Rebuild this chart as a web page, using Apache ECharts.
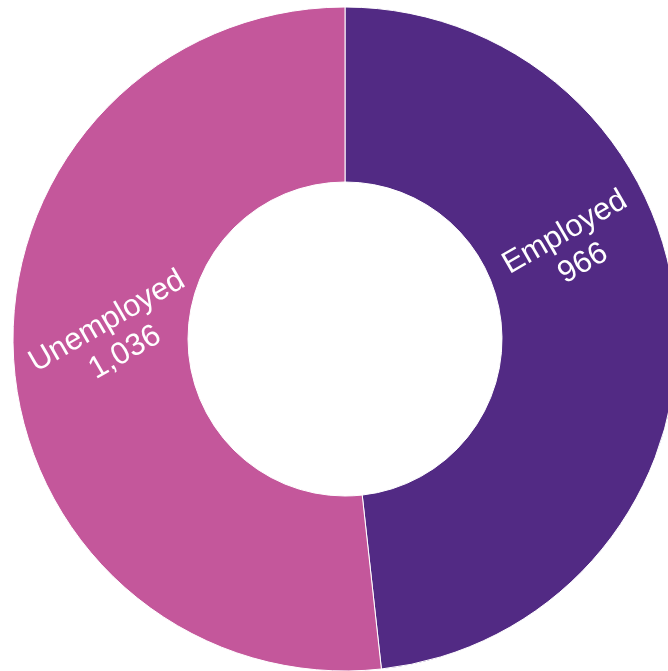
<!DOCTYPE html>
<html>
<head>
<meta charset="utf-8">
<script src="https://cdn.jsdelivr.net/npm/echarts@6/dist/echarts.min.js"></script>
<style>
  html, body { margin: 0; padding: 0; background: #ffffff; }
  #chart { width: 668px; height: 671px; }
</style>
</head>
<body>
<div id="chart"></div>
<script>
// Employment status breakdown
const categories = ['Employed', 'Unemployed'];
const counts = [966, 1036];
const colors = ['#522a84', '#c4579b'];

// Where each slice's label sits (anchor point and tilt)
const labelSpots = [
  { x: 574, y: 248, rotate: 30 },
  { x: 116, y: 337, rotate: 30 }
];

const chart = echarts.init(document.getElementById('chart'), null, { renderer: 'canvas' });

chart.setOption({
  animation: false,
  series: [{
    type: 'pie',
    center: [345, 339],
    radius: [157, 332],
    startAngle: 90,
    clockwise: true,
    avoidLabelOverlap: false,
    itemStyle: { borderColor: '#ffffff', borderWidth: 1 },
    emphasis: { disabled: true },
    label: {
      show: true,
      position: 'inside',
      color: '#ffffff',
      fontFamily: 'Liberation Sans, Arial, sans-serif',
      fontSize: 31,
      lineHeight: 36,
      align: 'center',
      verticalAlign: 'middle',
      formatter: p => p.name + '\n' + p.value.toLocaleString('en-US')
    },
    labelLine: { show: false },
    labelLayout: p => {
      const s = labelSpots[p.dataIndex];
      return { x: s.x, y: s.y, rotate: s.rotate, align: 'center', verticalAlign: 'middle' };
    },
    data: categories.map((name, i) => ({
      name,
      value: counts[i],
      itemStyle: { color: colors[i] }
    }))
  }]
});
</script>
</body>
</html>
